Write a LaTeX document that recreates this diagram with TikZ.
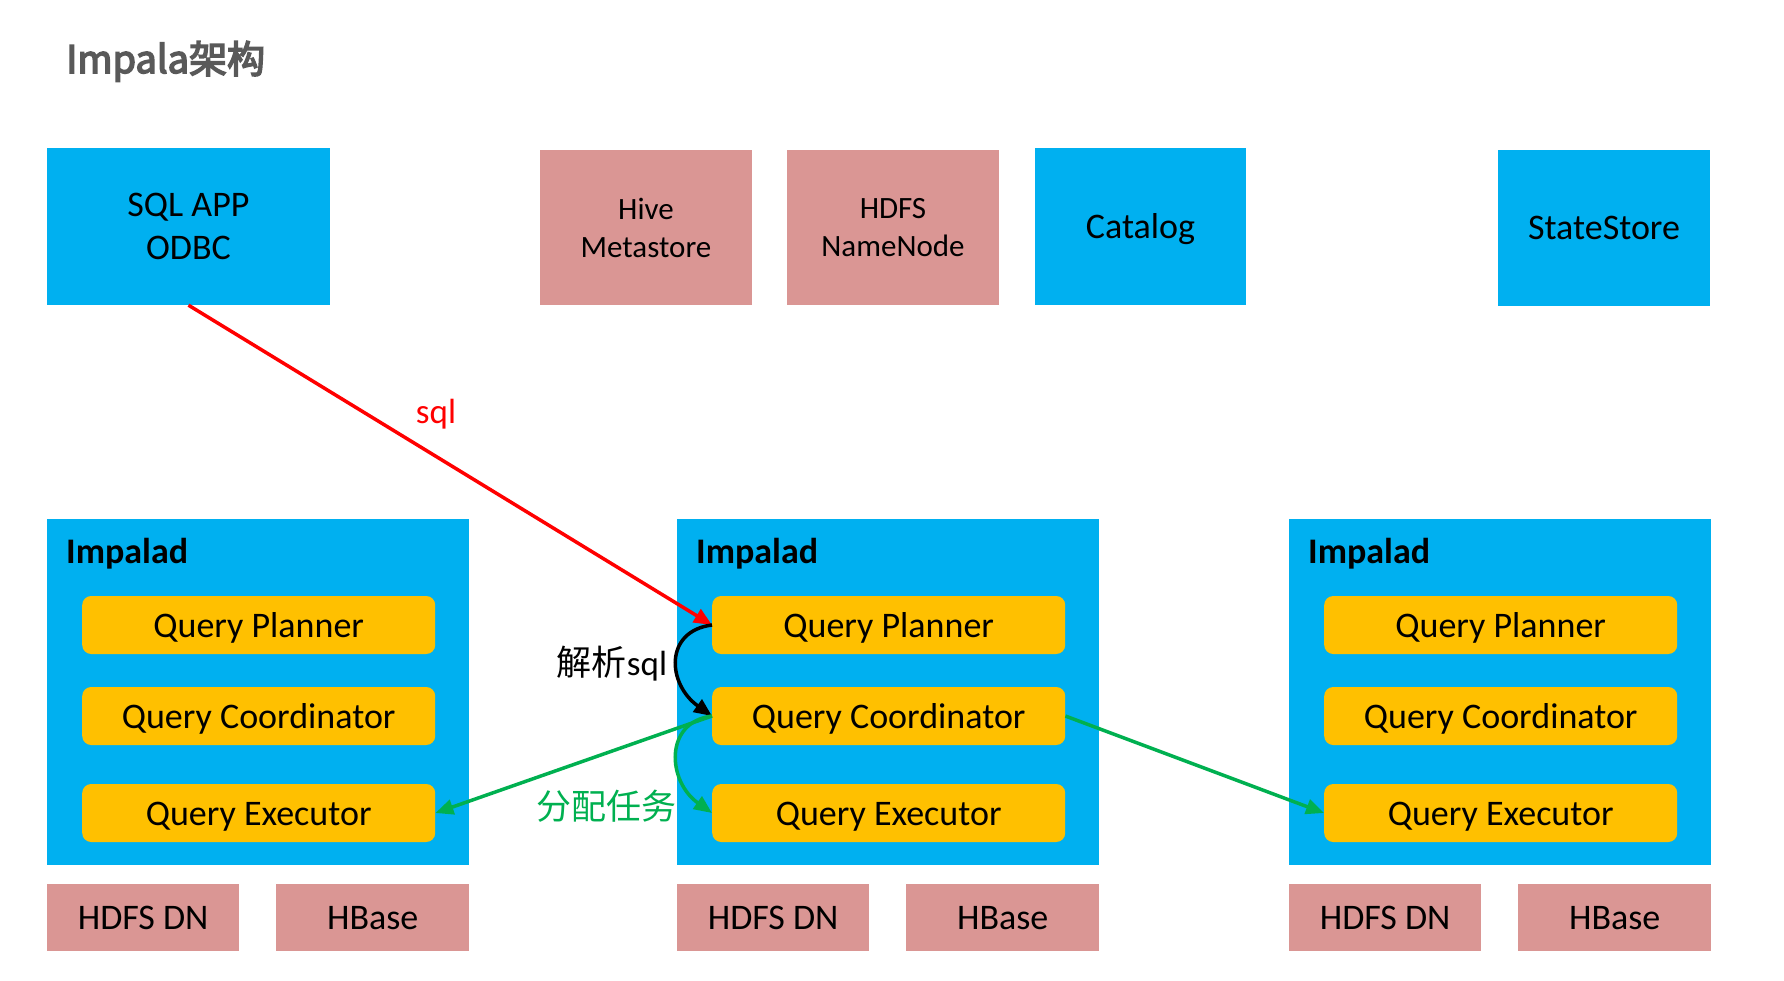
\documentclass[tikz,border=0pt]{standalone}
\usepackage{fontspec}
\setmainfont{Carlito}
\newfontfamily\cjk{Noto Sans CJK SC}
\newfontfamily\cjkb[FakeBold=4]{Noto Sans CJK SC}
\usetikzlibrary{arrows.meta}
\definecolor{cblue}{HTML}{00B0F0}
\definecolor{cpink}{HTML}{DA9694}
\definecolor{cyellow}{HTML}{FFC000}
\definecolor{cgreen}{HTML}{00B050}
\definecolor{cred}{HTML}{FF0000}
\definecolor{cgray}{HTML}{595959}
\tikzset{
  box/.style={rectangle, inner sep=0pt, align=center, font=\fontsize{36}{43}\selectfont},
  oneline/.style={text height=30pt, text depth=6pt},
  bluebox/.style={box, fill=cblue},
  pinkbox/.style={box, fill=cpink},
  ybox/.style={box, oneline, fill=cyellow, rounded corners=9pt, minimum width=353pt, minimum height=58pt},
  conn/.style={line width=3.5pt, -{Triangle[length=18pt,width=15pt]}},
  lbl/.style={inner sep=0pt, font=\fontsize{35}{42}\selectfont},
}
\begin{document}
\begin{tikzpicture}[x=1pt,y=-1pt]
\useasboundingbox (0,0) rectangle (1784,981);
% title
\node[anchor=base west, inner sep=0pt, text=cgray, font={\cjkb\fontsize{38}{44}\selectfont}] (title) at (66,73) {Impala架构};
% top row
\node[bluebox, minimum width=283pt, minimum height=157pt] (sql) at (188.5,226.5) {SQL APP\\ODBC};
\node[pinkbox, minimum width=212pt, minimum height=155pt, font=\fontsize{31}{38}\selectfont] (hive) at (646,227.5) {Hive\\Metastore};
\node[pinkbox, minimum width=212pt, minimum height=155pt, font=\fontsize{31}{38}\selectfont] (nn) at (893,227.5) {HDFS\\NameNode};
\node[bluebox, oneline, minimum width=211pt, minimum height=157pt] (cat) at (1140.5,226.5) {Catalog};
\node[bluebox, oneline, minimum width=212pt, minimum height=156pt] (ss) at (1604,228) {StateStore};
% impalad groups
\foreach \i/\x in {1/47,2/677,3/1289}{
  \node[bluebox, anchor=north west, minimum width=422pt, minimum height=346pt] (imp\i) at (\x,519) {};
  \node[anchor=west, inner sep=0pt, font=\bfseries\fontsize{36}{43}\selectfont] (impl\i) at (\x+19,554) {Impalad};
  \node[ybox, anchor=west] (qp\i) at (\x+35,625) {Query Planner};
  \node[ybox, anchor=west] (qc\i) at (\x+35,716) {Query Coordinator};
  \node[ybox, anchor=west] (qe\i) at (\x+35,813) {Query Executor};
  \node[pinkbox, oneline, anchor=north west, minimum width=192pt, minimum height=67pt] (dn\i) at (\x,884) {HDFS DN};
  \node[pinkbox, oneline, anchor=north west, minimum width=193pt, minimum height=67pt] (hb\i) at (\x+229,884) {HBase};
}
% connectors
\draw[conn, cred] (sql.south) -- (qp2.west);
\draw[conn, black] (qp2.west) .. controls +(-48,6) and +(-45,-32) .. (qc2.west);
\draw[conn, cgreen] (qc2.west) .. controls +(-48,6) and +(-45,-32) .. (qe2.west);
\draw[conn, cgreen] (qc2.west) -- (qe1.east);
\draw[conn, cgreen] (qc2.east) -- (qe3.west);
% labels
\node[lbl, text=cred] (sqllbl) at (436,414) {sql};
\node[lbl] (jxlbl) at (612,664) {{\cjk 解析}sql};
\node[lbl, text=cgreen] (fplbl) at (606,806) {\cjk 分配任务};
\end{tikzpicture}
\end{document}
